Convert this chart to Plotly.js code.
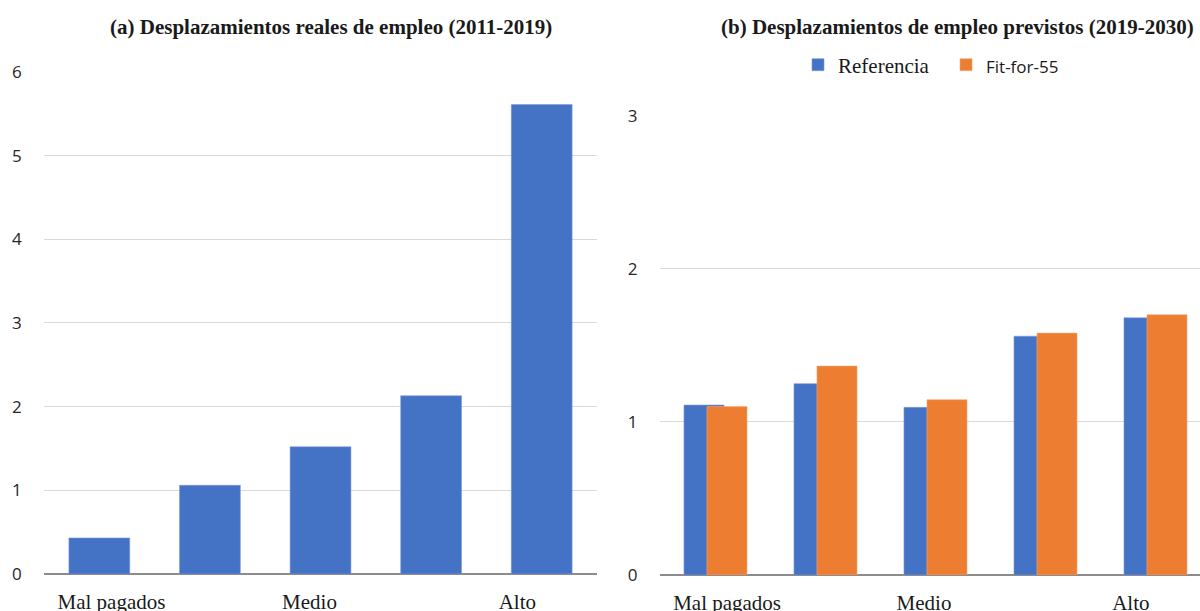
<!DOCTYPE html>
<html>
<head>
<meta charset="utf-8">
<script src="https://cdn.plot.ly/plotly-3.0.1.min.js"></script>
<style>html,body{margin:0;padding:0;background:#fff;overflow:hidden}</style>
</head>
<body>
<div id="chart" style="width:1200px;height:611px"></div>
<script>
// Categories (wage quintiles)
const categories = ["Mal pagados", "Medio-bajo", "Medio", "Medio-alto", "Alto"];
const tickLabels = ["Mal pagados", "Medio", "Alto"];
const tickPositions = [0.11, 1.9, 3.78];

// (a) Actual employment shifts 2011-2019
const realShifts = [0.43, 1.06, 1.52, 2.13, 5.61];

// (b) Projected employment shifts 2019-2030
const referencia = [1.11, 1.25, 1.095, 1.56, 1.68];
const fitFor55 = [1.10, 1.365, 1.145, 1.58, 1.70];

const titleA = "(a) Desplazamientos reales de empleo (2011-2019)";
const titleB = "(b) Desplazamientos de empleo previstos (2019-2030)";

const BLUE = "#4472C4", ORANGE = "#ED7D31";
const SERIF = "Liberation Serif, DejaVu Serif, serif";
const SANS = "Open Sans, Noto Sans, sans-serif";

const traces = [
  {type: "bar", x: categories, y: realShifts, xaxis: "x", yaxis: "y",
   width: 0.55, marker: {color: BLUE, line: {color: "#7d9bd6", width: 0.6}},
   showlegend: false, hoverinfo: "x+y"},
  {type: "bar", x: categories, y: referencia, xaxis: "x2", yaxis: "y2",
   name: "Referencia", width: 0.364, offset: -0.282,
   marker: {color: BLUE, line: {color: "#7d9bd6", width: 0.6}}},
  {type: "bar", x: categories, y: fitFor55, xaxis: "x2", yaxis: "y2",
   name: '<span style="font-family:Open Sans, Noto Sans, sans-serif;font-size:17px">Fit-for-55</span>',
   width: 0.364, offset: -0.073,
   marker: {color: ORANGE, line: {color: "#f3a97a", width: 0.6}}}
];

const xCommon = {
  type: "category", categoryorder: "array", categoryarray: categories,
  tickmode: "array", tickvals: tickPositions, ticktext: tickLabels,
  ticks: "outside", ticklen: 9, tickcolor: "rgba(0,0,0,0)",
  tickfont: {family: SERIF, size: 21, color: "#1a1a1a"},
  showgrid: false, zeroline: false, showline: false, fixedrange: true
};
const yCommon = {
  showgrid: true, gridcolor: "#d9d9d9", gridwidth: 1,
  zeroline: true, zerolinecolor: "#8c8c8c", zerolinewidth: 1.5,
  showline: false, ticks: "outside", ticklen: 18, tickcolor: "rgba(0,0,0,0)",
  tickfont: {family: SANS, size: 17, color: "#262626"}, dtick: 1, fixedrange: true
};

const layout = {
  width: 1200, height: 611,
  margin: {l: 0, r: 0, t: 0, b: 0},
  paper_bgcolor: "#fff", plot_bgcolor: "#fff",
  barmode: "overlay",
  showlegend: true,
  legend: {orientation: "h", x: 0.665, xanchor: "left", y: 0.8936, yanchor: "middle",
           font: {family: SERIF, size: 21, color: "#1a1a1a"}, itemwidth: 30,
           entrywidth: 103, entrywidthmode: "pixels",
           traceorder: "normal", bgcolor: "rgba(0,0,0,0)"},
  xaxis: Object.assign({}, xCommon, {domain: [0.0367, 0.4975], range: [-0.5, 4.5], anchor: "y"}),
  yaxis: Object.assign({}, yCommon, {domain: [0.0606, 0.8822], range: [0, 6], anchor: "x"}),
  xaxis2: Object.assign({}, xCommon, {domain: [0.55, 1], range: [-0.5, 4.409], anchor: "y2"}),
  yaxis2: Object.assign({}, yCommon, {domain: [0.0589, 0.8106], range: [0, 3], anchor: "x2"}),
  annotations: [
    {text: "<b>" + titleA + "</b>", xref: "paper", yref: "paper", x: 0.276, y: 0.956,
     xanchor: "center", yanchor: "middle", showarrow: false,
     font: {family: SERIF, size: 21, color: "#1a1a1a"}},
    {text: "<b>" + titleB + "</b>", xref: "paper", yref: "paper", x: 0.798, y: 0.956,
     xanchor: "center", yanchor: "middle", showarrow: false,
     font: {family: SERIF, size: 21, color: "#1a1a1a"}}
  ]
};

Plotly.newPlot("chart", traces, layout, {displayModeBar: false, staticPlot: true});
</script>
</body>
</html>
